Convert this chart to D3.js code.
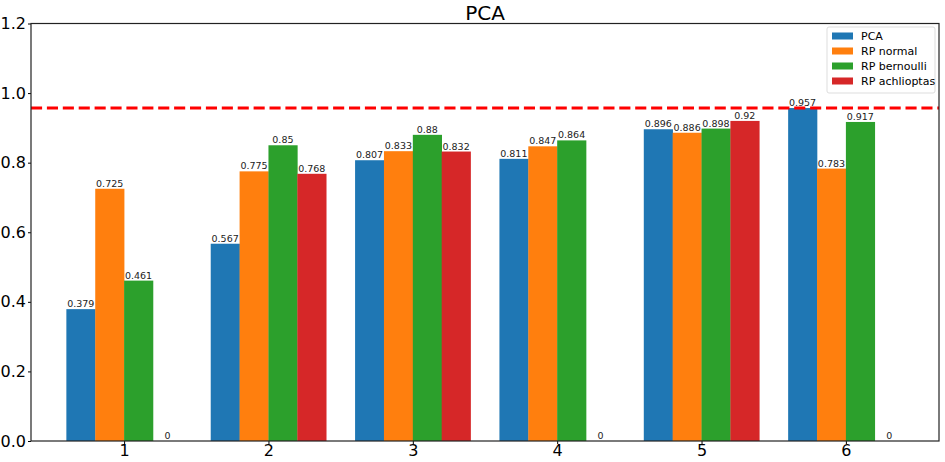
<!DOCTYPE html>
<html>
<head>
<meta charset="utf-8">
<script src="https://cdn.jsdelivr.net/npm/d3@7"></script>
<style>
  html, body { margin: 0; padding: 0; background: #fff; }
  svg { display: block; font-family: "DejaVu Sans", sans-serif; }
</style>
</head>
<body>
<svg id="chart" width="945" height="462"></svg>
<script>
// Components per group and accuracy of each method
const groups = [1, 2, 3, 4, 5, 6];
const seriesNames = ["PCA", "RP normal", "RP bernoulli", "RP achlioptas"];
const pcaValues = [0.379, 0.567, 0.807, 0.811, 0.896, 0.957];
const rpNormalValues = [0.725, 0.775, 0.833, 0.847, 0.886, 0.783];
const rpBernoulliValues = [0.461, 0.85, 0.88, 0.864, 0.898, 0.917];
const rpAchlioptasValues = [0, 0.768, 0.832, 0, 0.92, 0];
const thresholdValue = 0.957;
const yTicks = [0.0, 0.2, 0.4, 0.6, 0.8, 1.0, 1.2];
const colors = ["#1f77b4", "#ff7f0e", "#2ca02c", "#d62728"];

const seriesValues = [pcaValues, rpNormalValues, rpBernoulliValues, rpAchlioptasValues];

const svg = d3.select("#chart");
const margin = { left: 31, right: 6, top: 23.5, bottom: 21 };
const W = 945, H = 462;
const plotW = W - margin.left - margin.right;
const plotH = H - margin.top - margin.bottom;

const g = svg.append("g").attr("transform", `translate(${margin.left},${margin.top})`);

const barWidth = 0.2;
const x = d3.scaleLinear().domain([0.355, 6.645]).range([0, plotW]);
const y = d3.scaleLinear().domain([0, 1.2]).range([plotH, 0]);

// Bars with value labels on top
seriesValues.forEach((vals, si) => {
  const offset = (si - 1.5) * barWidth;
  const sg = g.append("g");
  const rows = groups.map((grp, i) => ({ grp, v: vals[i] }));
  sg.selectAll("rect")
    .data(rows)
    .join("rect")
    .attr("x", d => x(d.grp + offset - barWidth / 2))
    .attr("width", d => x(d.grp + offset + barWidth / 2) - x(d.grp + offset - barWidth / 2) + 0.3)
    .attr("y", d => y(d.v))
    .attr("height", d => y(0) - y(d.v))
    .attr("fill", colors[si]);
  sg.selectAll("text")
    .data(rows)
    .join("text")
    .attr("x", d => x(d.grp + offset))
    .attr("y", d => y(d.v) - 2)
    .attr("text-anchor", "middle")
    .attr("font-size", 9.5)
    .attr("fill", "#222")
    .text(d => String(d.v));
});

// Threshold line
g.append("line")
  .attr("x1", 0).attr("x2", plotW)
  .attr("y1", y(thresholdValue)).attr("y2", y(thresholdValue))
  .attr("stroke", "#ff0000")
  .attr("stroke-width", 3)
  .attr("stroke-dasharray", "11.1 4.8");

// Axes
const yAxis = d3.axisLeft(y).tickValues(yTicks).tickFormat(d3.format(".1f")).tickSize(3).tickPadding(2);
const xAxis = d3.axisBottom(x).tickValues(groups).tickFormat(d3.format("d")).tickSize(3).tickPadding(1);

const ya = g.append("g").call(yAxis);
ya.select(".domain").remove();
ya.selectAll("text").attr("font-size", 16).attr("font-family", "DejaVu Sans").attr("fill", "#000");
ya.selectAll("line").attr("stroke", "#000");

const xa = g.append("g").attr("transform", `translate(0,${plotH})`).call(xAxis);
xa.select(".domain").remove();
xa.selectAll("text").attr("font-size", 16).attr("font-family", "DejaVu Sans").attr("fill", "#000");
xa.selectAll("line").attr("stroke", "#000");

// Frame
g.append("rect")
  .attr("x", 0).attr("y", 0).attr("width", plotW).attr("height", plotH)
  .attr("fill", "none").attr("stroke", "#222").attr("stroke-width", 1.2);

// Title
svg.append("text")
  .attr("x", margin.left + plotW / 2)
  .attr("y", 20)
  .attr("text-anchor", "middle")
  .attr("font-size", 20)
  .attr("fill", "#000")
  .text("PCA");

// Legend
const lg = g.append("g").attr("transform", `translate(${plotW - 112},${3.5})`);
lg.append("rect")
  .attr("x", 0).attr("y", 0).attr("width", 108).attr("height", 66)
  .attr("rx", 2).attr("fill", "#fff").attr("fill-opacity", 0.8)
  .attr("stroke", "#dddddd").attr("stroke-width", 1);
seriesNames.forEach((name, i) => {
  const row = lg.append("g").attr("transform", `translate(5,${9 + i * 15})`);
  row.append("rect").attr("x", 0).attr("y", -3.5).attr("width", 21).attr("height", 7).attr("fill", colors[i]);
  row.append("text").attr("x", 29).attr("y", 4).attr("font-size", 11).attr("fill", "#000").text(name);
});
</script>
</body>
</html>
